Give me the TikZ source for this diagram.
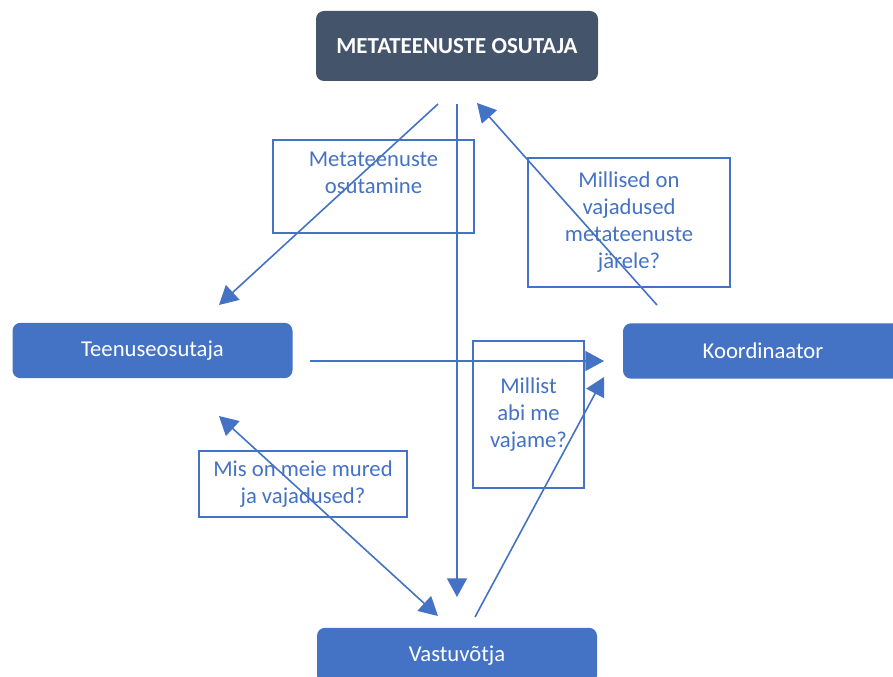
\documentclass[tikz,border=0pt]{standalone}
\usepackage{fontspec}
\setmainfont{Carlito}
\usetikzlibrary{arrows.meta, positioning}

\definecolor{wordblue}{HTML}{4472C4}
\definecolor{slate}{HTML}{44546A}

\begin{document}
\begin{tikzpicture}[x=0.75pt, y=-0.75pt,
    font=\fontsize{17}{20.25}\selectfont,
    head/.style={
        rectangle,
        rounded corners=6pt,
        fill=slate,
        text=white,
        font=\fontsize{17.2}{20.25}\selectfont\bfseries,
        minimum width=211.5pt,
        minimum height=52.5pt
    },
    role/.style={
        rectangle,
        rounded corners=6pt,
        fill=wordblue,
        text=white,
        minimum width=210pt,
        minimum height=41.5pt
    },
    note/.style={
        rectangle,
        draw=wordblue,
        line width=1.2pt,
        text=wordblue,
        align=center,
        inner sep=0pt
    },
    arrow/.style={-{Triangle[length=14pt,width=15pt]}, line width=1.2pt, wordblue},
    twoway/.style={{Triangle[length=14pt,width=15pt]}-{Triangle[length=14pt,width=15pt]}, line width=1.2pt, wordblue}
]
\useasboundingbox (0,0) rectangle (893,677);

% ===== main roles =====
\node[head] (meta) at (457,46) {METATEENUSTE OSUTAJA};
\node[role] (teen) at (152.5,350.5) {Teenuseosutaja};
\node[role] (koord) at (763,351) {Koordinaator};
\node[role] (vast) at (457,655.5) {Vastuvõtja};

% ===== question boxes =====
\node[note, minimum width=150.75pt, minimum height=69.75pt, text depth=20pt] (osut) at (373.5,186.5) {Metateenuste\\osutamine};
\node[note, minimum width=151.5pt, minimum height=96.75pt] (vaj) at (629,222.5) {Millised on\\vajadused\\metateenuste\\järele?};
\node[note, minimum width=83.25pt, minimum height=110.25pt] (abi) at (528.5,414.5) {Millist\\abi me\\vajame?};
\node[note, minimum width=156pt, minimum height=49.5pt] (mured) at (303,484) {Mis on meie mured\\ja vajadused?};

% ===== connector ends =====
\coordinate (m1) at (438,104);
\coordinate (m2) at (457,104);
\coordinate (m3) at (477,103);
\coordinate (t1) at (219,305);
\coordinate (t2) at (310,361);
\coordinate (t3) at (219,416);
\coordinate (k1) at (657,305);
\coordinate (k2) at (604,361);
\coordinate (k3) at (604,377);
\coordinate (v1) at (438,616);
\coordinate (v2) at (457,597);
\coordinate (v3) at (475,617);

\draw[arrow] (m1) -- (t1);
\draw[arrow] (m2) -- (v2);
\draw[arrow] (k1) -- (m3);
\draw[arrow] (t2) -- (k2);
\draw[twoway] (t3) -- (v1);
\draw[arrow] (v3) -- (k3);

\end{tikzpicture}
\end{document}
